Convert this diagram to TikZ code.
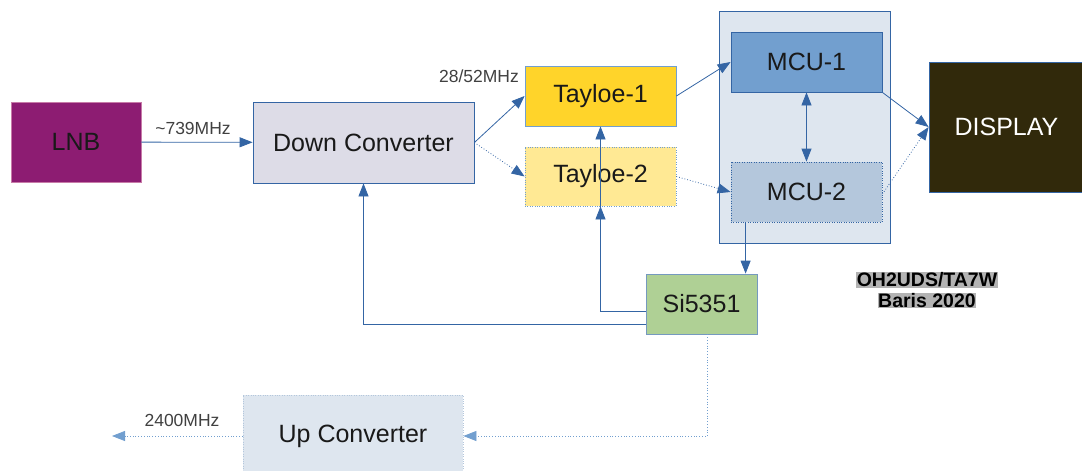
\documentclass[tikz,border=0pt]{standalone}
\usepackage{fontspec}
\setmainfont{Liberation Sans}
\usetikzlibrary{arrows.meta, positioning}

\definecolor{lnbpurple}{HTML}{8D1C72}
\definecolor{lnbedge}{HTML}{C77BA8}
\definecolor{convgray}{HTML}{DDDCE7}
\definecolor{linkblue}{HTML}{3465A4}
\definecolor{paleblue}{HTML}{729FCF}
\definecolor{tayyellow}{HTML}{FFD42A}
\definecolor{taypale}{HTML}{FFE994}
\definecolor{groupblue}{HTML}{DEE6EF}
\definecolor{mcudark}{HTML}{729FCF}
\definecolor{mcupale}{HTML}{B4C7DC}
\definecolor{dispdark}{HTML}{31290B}
\definecolor{sigreen}{HTML}{AFD095}
\definecolor{creditgray}{HTML}{B3B3B3}

\begin{document}
\begin{tikzpicture}[
    x=1pt, y=-1pt,
    font=\fontsize{25}{29}\selectfont,
    block/.style={rectangle, draw=linkblue, line width=0.8pt, inner sep=0pt, text=black!90},
    dotbox/.style={block, dash pattern=on 0.8pt off 1.6pt},
    lbl/.style={font=\fontsize{17.5}{20}\selectfont, text=black!75, inner sep=1pt},
    credit/.style={font=\fontsize{19.5}{22}\selectfont\bfseries, fill=creditgray, inner sep=0.6pt, text=black},
    arrow/.style={-{Triangle[length=13pt,width=10pt]}, draw=linkblue, line width=0.8pt},
    dotarrow/.style={arrow, dash pattern=on 0.8pt off 2pt}
]
\useasboundingbox (0,0) rectangle (1082,471);
\clip (0,0) rectangle (1082,471);

% MCU group background
\node[block, fill=groupblue, minimum width=171pt, minimum height=232pt] (mcugroup) at (804.5,127) {};

% Receive chain
\node[block, draw=lnbedge, fill=lnbpurple, minimum width=130pt, minimum height=80pt] (lnb) at (76,142) {LNB};
\node[block, fill=convgray, minimum width=221pt, minimum height=81pt] (down) at (363.5,142.5) {Down Converter};
\node[block, draw=paleblue, fill=tayyellow, minimum width=151pt, minimum height=60pt] (tay1) at (600.5,96) {Tayloe-1};
\node[dotbox, draw=paleblue, fill=taypale, minimum width=151pt, minimum height=59pt] (tay2) at (600.5,176.5) {Tayloe-2};

% Processing
\node[block, fill=mcudark, minimum width=151pt, minimum height=60pt] (mcu1) at (806.5,62) {MCU-1};
\node[dotbox, fill=mcupale, minimum width=151pt, minimum height=60pt] (mcu2) at (806.5,192) {MCU-2};
\node[block, fill=dispdark, text=white!92, minimum width=155pt, minimum height=130pt] (display) at (1006.5,127) {DISPLAY};

% Clock and transmit chain
\node[block, draw=paleblue!80!gray, fill=sigreen, minimum width=111pt, minimum height=60pt] (si) at (701.5,304) {Si5351};
\node[dotbox, draw=mcupale, fill=groupblue, minimum width=220pt, minimum height=82pt] (up) at (353,436) {Up Converter};
\coordinate (rfout) at (112,436);

% Arrows
\draw[arrow] (lnb) -- (down);
\draw[arrow] (down.east) -- (tay1.west);
\draw[dotarrow] (down.east) -- (tay2.west);
\draw[arrow] (tay1.east) -- (mcu1.west);
\draw[dotarrow] (tay2.east) -- (mcu2.west);
\draw[arrow, {Triangle[length=13pt,width=10pt]}-{Triangle[length=13pt,width=10pt]}] (mcu1) -- (mcu2);
\draw[arrow] (mcu1.south east) -- (display.west);
\draw[dotarrow] ([yshift=-2pt]mcu2.east) -- (display.west);
\draw[arrow] ([xshift=15pt]mcu2.south west) -- ([xshift=15pt]mcu2.south west |- si.north);
\draw[arrow] ([yshift=-7pt]si.west) -| (tay2.south);
\draw[arrow] ([yshift=-7pt]si.west) -| (tay1.south);
\draw[arrow] ([yshift=-20pt]si.west) -| (down.south);
\draw[dotarrow, draw=paleblue] ([xshift=6pt]si.south) |- (up.east);
\draw[dotarrow, draw=paleblue] (up.west) -- (rfout);

% Labels
\node[lbl] (iflbl) at (193,128) {\textasciitilde739MHz};
\node[lbl, anchor=east] (baselbl) at (520,76) {28/52MHz};
\node[lbl] (txlbl) at (182,420) {2400MHz};
\node[credit] (call) at (927,280) {OH2UDS/TA7W};
\node[credit] (year) at (927,300.5) {Baris 2020};

\end{tikzpicture}
\end{document}
